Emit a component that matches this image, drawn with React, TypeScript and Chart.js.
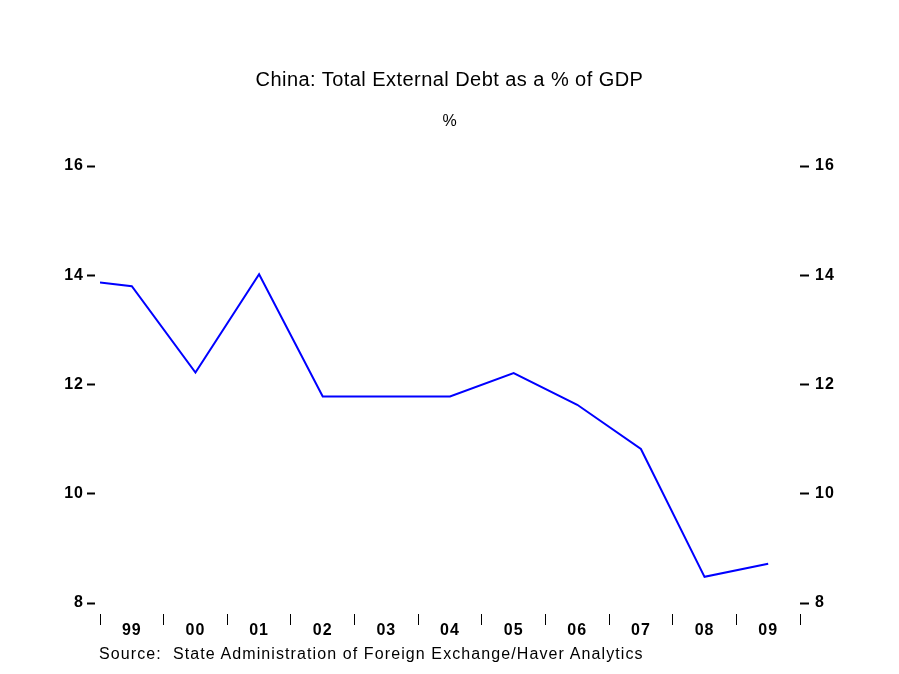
import React, { useEffect, useRef } from "react";
import { Chart, registerables } from "chart.js";

Chart.register(...registerables);

// ---- data ----
const yearLabels = ["99", "00", "01", "02", "03", "04", "05", "06", "07", "08", "09"];
const periodStart = 1999;
const periodEnd = 2010;
// observation dates (mid-year) and values, % of GDP
const obsDates = [1999.0, 1999.5, 2000.5, 2001.5, 2002.5, 2003.5, 2004.5, 2005.5, 2006.5, 2007.5, 2008.5, 2009.5];
const debtPctGdp = [13.87, 13.8, 12.22, 14.02, 11.78, 11.78, 11.78, 12.21, 11.63, 10.82, 8.48, 8.72];
const yTickValues = [8, 10, 12, 14, 16];
const yMin = 7.8;
const yMax = 16;

const TITLE = "China: Total External Debt as a % of GDP";
const SUBTITLE = "%";
const SOURCE = "Source:  State Administration of Foreign Exchange/Haver Analytics";

const FONT = "'Liberation Sans', Arial, Helvetica, sans-serif";

export default function App() {
  const ref = useRef<HTMLCanvasElement | null>(null);

  useEffect(() => {
    if (!ref.current) return;
    const spacingPlugin = {
      id: "spacing",
      beforeDraw(chart: any) {
        (chart.ctx as any).letterSpacing = "1px";
      },
    };
    const chart = new Chart(ref.current, {
      type: "line",
      data: {
        labels: yearLabels,
        datasets: [
          {
            data: obsDates.map((d, i) => ({ x: d, y: debtPctGdp[i] })),
            xAxisID: "xl",
            yAxisID: "y",
            borderColor: "#0000ff",
            borderWidth: 2,
            pointRadius: 0,
            tension: 0,
            fill: false,
          },
        ],
      },
      options: {
        animation: false,
        responsive: false,
        layout: { padding: { top: 166, left: 0, right: 0, bottom: 20 } },
        plugins: {
          legend: { display: false },
          title: { display: false },
          tooltip: { enabled: false },
        },
        scales: {
          xl: {
            type: "linear",
            display: false,
            min: periodStart,
            max: periodEnd,
          },
          x: {
            type: "category",
            position: "bottom",
            offset: true,
            border: { display: false },
            grid: {
              offset: true,
              drawOnChartArea: false,
              drawTicks: true,
              tickLength: 11,
              tickColor: "#000",
              tickWidth: 1,
            },
            ticks: {
              color: "#000",
              font: { family: FONT, size: 16, weight: "bold" },
              padding: -4,
              maxRotation: 0,
              autoSkip: false,
            },
            afterFit: (s: any) => {
              s.height = 40;
            },
          },
          y: {
            type: "linear",
            position: "left",
            min: yMin,
            max: yMax,
            border: { display: false },
            grid: {
              drawOnChartArea: false,
              drawTicks: true,
              tickLength: 13,
              tickColor: "#000",
              tickWidth: 2,
              tickBorderDash: [8, 5],
            },
            ticks: {
              color: "#000",
              font: { family: FONT, size: 16, weight: "bold" },
              padding: 3,
            },
            afterBuildTicks: (s: any) => {
              s.ticks = yTickValues.map((v) => ({ value: v }));
            },
            afterFit: (s: any) => {
              s.width = 100;
            },
          },
          y2: {
            type: "linear",
            position: "right",
            min: yMin,
            max: yMax,
            border: { display: false },
            grid: {
              drawOnChartArea: false,
              drawTicks: true,
              tickLength: 9,
              tickColor: "#000",
              tickWidth: 2,
            },
            ticks: {
              color: "#000",
              font: { family: FONT, size: 16, weight: "bold" },
              padding: 6,
            },
            afterBuildTicks: (s: any) => {
              s.ticks = yTickValues.map((v) => ({ value: v }));
            },
            afterFit: (s: any) => {
              s.width = 99;
            },
          },
        },
      },
      plugins: [spacingPlugin],
    });
    return () => chart.destroy();
  }, []);

  return (
    <div
      style={{
        position: "absolute",
        left: 0,
        top: 0,
        width: 899,
        height: 674,
        background: "#fff",
        fontFamily: FONT,
        color: "#000",
        overflow: "hidden",
      }}
    >
      <canvas ref={ref} width={899} height={674} style={{ position: "absolute", left: 0, top: 0 }} />
      <div
        style={{
          position: "absolute",
          left: 0,
          width: 899,
          top: 69,
          textAlign: "center",
          fontSize: 20,
          lineHeight: "20px",
          letterSpacing: "0.45px",
          whiteSpace: "nowrap",
        }}
      >
        {TITLE}
      </div>
      <div
        style={{
          position: "absolute",
          left: 0,
          width: 899,
          top: 113,
          textAlign: "center",
          fontSize: 16,
          lineHeight: "16px",
        }}
      >
        {SUBTITLE}
      </div>
      <div
        style={{
          position: "absolute",
          left: 99,
          top: 646,
          fontSize: 16,
          lineHeight: "16px",
          letterSpacing: "1.1px",
          whiteSpace: "pre",
        }}
      >
        {SOURCE}
      </div>
    </div>
  );
}
